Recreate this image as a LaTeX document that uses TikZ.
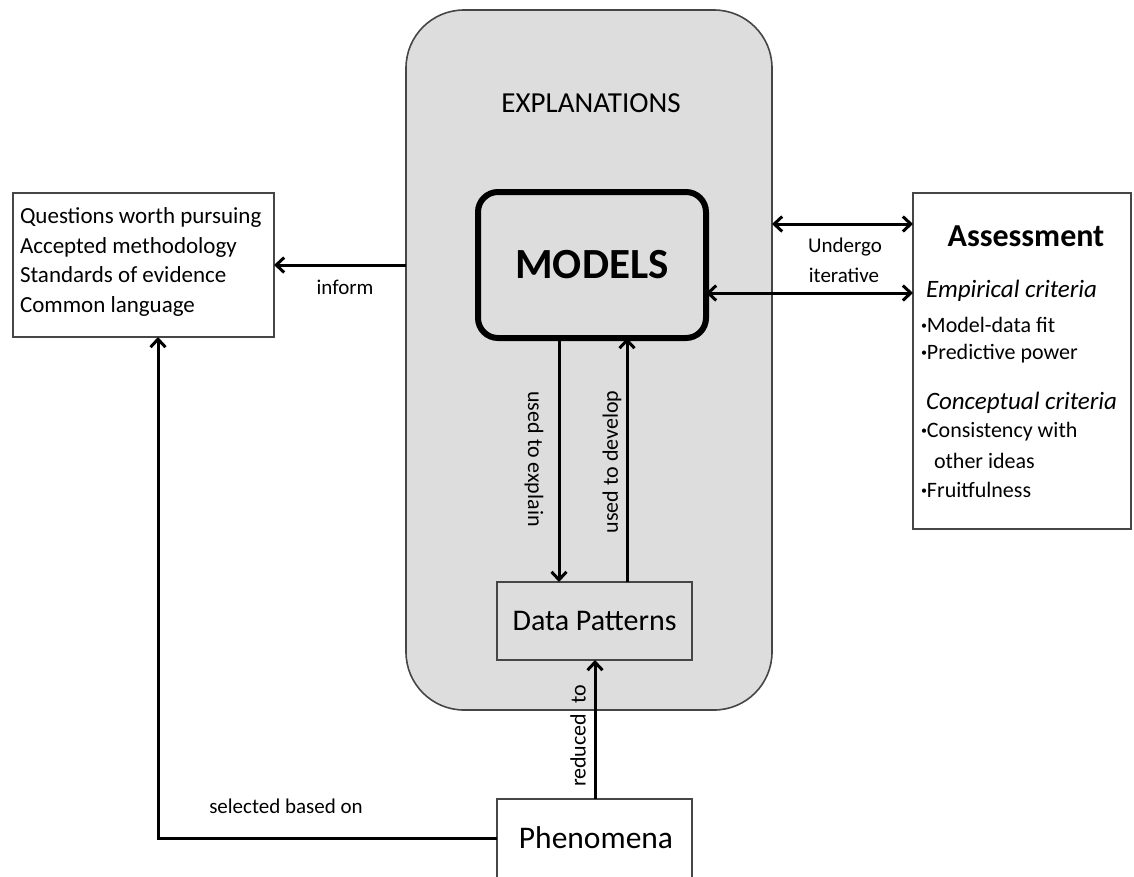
\documentclass[tikz,border=0pt]{standalone}
\usepackage{fontspec}
\setmainfont{Carlito}
\usetikzlibrary{arrows.meta,calc}
\definecolor{panel}{RGB}{221,221,222}
\definecolor{edge}{RGB}{70,70,70}
\newcommand{\bul}{\raisebox{0.28ex}{\fontsize{12}{12}\selectfont•}}
\tikzset{
  every node/.style={inner sep=0pt, outer sep=0pt},
  plainbox/.style={draw=edge, line width=1.6pt, fill=white},
  graybox/.style={draw=edge, line width=1.6pt, fill=panel},
  arr/.style={line width=3pt, -{Straight Barb[length=8pt,width=15pt,line width=3pt]}},
  dbl/.style={line width=3pt, {Straight Barb[length=8pt,width=15pt,line width=3pt]}-{Straight Barb[length=8pt,width=15pt,line width=3pt]}},
  lbl/.style={font=\fontsize{21}{25}\selectfont},
  vlbl/.style={font=\fontsize{22}{26}\selectfont},
  item/.style={anchor=west, font=\fontsize{22}{26}\selectfont},
  crit/.style={anchor=west, font=\fontsize{25}{30}\itshape},
}
\begin{document}
\begin{tikzpicture}[x=1pt,y=-1pt]
\useasboundingbox (0,0) rectangle (1134,876);
\fill[white] (0,0) rectangle (1134,876);

% explanations panel
\node[graybox, rounded corners=58pt, minimum width=366pt, minimum height=700pt] (outer) at (589,360) {};
\node[font=\fontsize{29}{34}\selectfont] (expl) at (591,103) {EXPLANATIONS};

% models
\node[draw=black, fill=panel, line width=6pt, rounded corners=20pt, minimum width=228pt, minimum height=146pt,
      font=\fontsize{43}{50}\bfseries] (models) at (592,265) {MODELS};

% data patterns
\node[graybox, minimum width=195pt, minimum height=78pt, font=\fontsize{30}{36}\selectfont] (dp) at (594.5,621) {Data Patterns};

% phenomena
\node[plainbox, minimum width=195pt, minimum height=102pt] (phen) at (594.5,850) {};
\node[font=\fontsize{31.5}{38}\selectfont] (phentext) at (596,838) {Phenomena};

% left box
\node[plainbox, minimum width=261pt, minimum height=144pt] (qbox) at (143.5,265) {};
\node[anchor=west, align=left, font=\fontsize{23}{29.7}\selectfont] (qtext) at (20,262)
  {Questions worth pursuing\\Accepted methodology\\Standards of evidence\\Common language};

% assessment box
\node[plainbox, minimum width=218pt, minimum height=336pt] (assess) at (1022,361) {};
\node[font=\fontsize{32}{38}\bfseries] (atitle) at (1026,236) {Assessment};
\node[crit] (emp) at (926,291) {Empirical criteria};
\node[item] (b1) at (921,325) {\bul Model-data fit};
\node[item] (b2) at (921,354) {\bul Predictive power};
\node[crit] (con) at (926,403) {Conceptual criteria};
\node[item] (b3) at (921,432) {\bul Consistency with};
\node[item] (b3b) at (934,461) {other ideas};
\node[item] (b4) at (921,490) {\bul Fruitfulness};

% connector guide points
\coordinate (yinform) at (0,265);
\coordinate (yup) at (0,224);
\coordinate (ylow) at (0,293);
\coordinate (xexp) at (559,0);
\coordinate (xdev) at (627,0);
\coordinate (xred) at (595,0);
\coordinate (corner) at (158,838);

% connectors
\draw[arr] (outer.west |- yinform) -- (qbox.east);
\draw[dbl] (outer.east |- yup) -- (assess.west |- yup);
\draw[dbl] (models.east |- ylow) -- (assess.west |- ylow);
\draw[arr] (models.south -| xexp) -- (dp.north -| xexp);
\draw[arr] (dp.north -| xdev) -- (models.south -| xdev);
\draw[arr] (phen.north -| xred) -- (dp.south -| xred);
\draw[arr] (phen.west |- corner) -- (corner) -- (qbox.south -| corner);

% connector labels
\node[lbl] (linform) at (345,287) {inform};
\node[lbl] (lund) at (845,247) {Undergo};
\node[lbl] (liter) at (844,275) {iterative};
\node[vlbl, rotate=-90] (lexp) at (534,459) {used to explain};
\node[vlbl, rotate=90] (ldev) at (612,462) {used to develop};
\node[vlbl, rotate=90] (lred) at (578,736) {reduced~~to};
\node[lbl] (lsel) at (286,806) {selected based on};
\end{tikzpicture}
\end{document}
